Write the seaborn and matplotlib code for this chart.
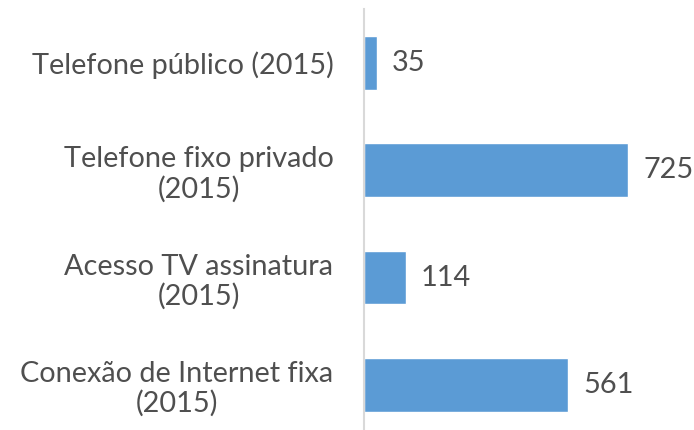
import matplotlib
matplotlib.use("Agg")
import matplotlib.pyplot as plt
import seaborn as sns
import pandas as pd

categories = [
    "Telefone público (2015)",
    "Telefone fixo privado\n(2015)",
    "Acesso TV assinatura\n(2015)",
    "Conexão de Internet fixa\n(2015)",
]
values = [35, 725, 114, 561]

sns.set_style("white")
plt.rcParams["font.family"] = ["Lato", "DejaVu Sans"]

text_color = "#4F4F4F"
bar_color = "#5B9BD5"

df = pd.DataFrame({"categoria": categories, "valor": values})

fig = plt.figure(figsize=(6.94, 4.30), dpi=100)
ax = fig.add_axes([364 / 694, -0.02, 330 / 694, 0.9986])

sns.barplot(data=df, y="categoria", x="valor", orient="h", color=bar_color,
            saturation=1, width=0.5, ax=ax)

ax.set_xlim(0, 906)
ax.set_ylim(3.5, -0.5)
ax.set_xlabel("")
ax.set_ylabel("")
ax.set_xticks([])

for lbl in ax.get_yticklabels():
    lbl.set_multialignment("center")
    lbl.set_linespacing(1.15)
ax.tick_params(axis="y", length=0, pad=22, labelsize=20.8, labelcolor=text_color)

ax.bar_label(ax.containers[0], labels=[str(v) for v in values], padding=11,
             fontsize=20.8, color=text_color)

for side in ["top", "right", "bottom"]:
    ax.spines[side].set_visible(False)
ax.spines["left"].set_color("#D9D9D9")
ax.spines["left"].set_linewidth(1.5)

fig.savefig("out.png", dpi=100)
